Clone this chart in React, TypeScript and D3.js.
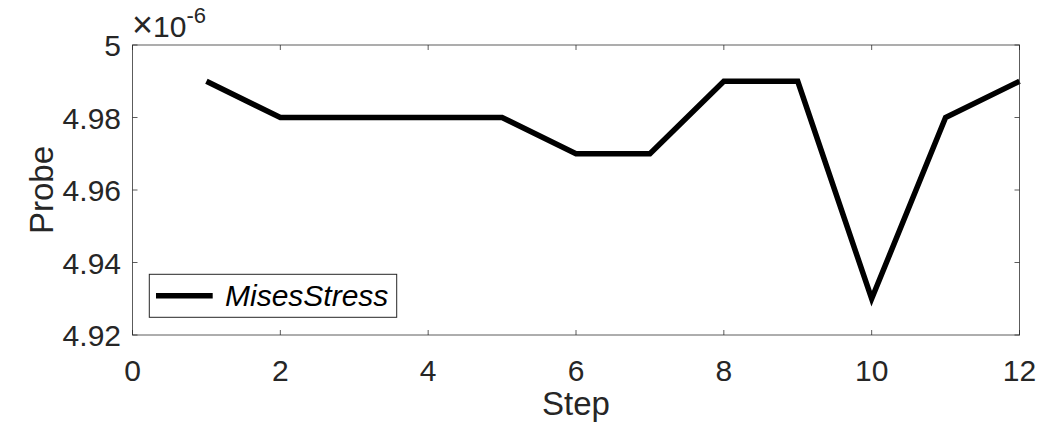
import React from "react";
import * as d3 from "d3";

const steps = [1, 2, 3, 4, 5, 6, 7, 8, 9, 10, 11, 12];
const probe = [4.99, 4.98, 4.98, 4.98, 4.98, 4.97, 4.97, 4.99, 4.99, 4.93, 4.98, 4.99];
const xTicks = [0, 2, 4, 6, 8, 10, 12];
const yTicks = [4.92, 4.94, 4.96, 4.98, 5];
const yTickLabels = ["4.92", "4.94", "4.96", "4.98", "5"];
const seriesName = "MisesStress";
const xLabel = "Step";
const yLabel = "Probe";

const W = 1061;
const H = 430;
const left = 132.5;
const right = 1019.5;
const top = 45;
const bottom = 335;
const FONT = "'Liberation Sans', Arial, Helvetica, sans-serif";
const AX = "#262626";

export default function App() {
  const x = d3.scaleLinear().domain([0, 12]).range([left, right]);
  const y = d3.scaleLinear().domain([4.92, 5]).range([bottom, top]);
  const line = d3
    .line<number>()
    .x((_, i) => x(steps[i]))
    .y((d) => y(d));
  const tl = 5;
  return (
    <svg
      width={W}
      height={H}
      style={{ position: "absolute", left: 0, top: 0, background: "#fff" }}
      fontFamily={FONT}
    >
      <rect x={0} y={0} width={W} height={H} fill="#fff" />
      <path
        d={line(probe) || ""}
        fill="none"
        stroke="#000"
        strokeWidth={5.5}
        strokeLinejoin="miter"
        strokeLinecap="butt"
      />
      <rect
        x={left}
        y={top}
        width={right - left}
        height={bottom - top}
        fill="none"
        stroke={AX}
        strokeWidth={1}
        strokeOpacity={0.75}
      />
      {xTicks.map((t) => (
        <g key={"x" + t}>
          <line x1={x(t)} x2={x(t)} y1={bottom} y2={bottom - tl} stroke={AX} strokeOpacity={0.75} strokeWidth={1} />
          <line x1={x(t)} x2={x(t)} y1={top} y2={top + tl} stroke={AX} strokeOpacity={0.75} strokeWidth={1} />
          <text x={x(t)} y={381} textAnchor="middle" fontSize={30} fill={AX}>
            {t}
          </text>
        </g>
      ))}
      {yTicks.map((t, i) => (
        <g key={"y" + t}>
          <line x1={left} x2={left + tl} y1={y(t)} y2={y(t)} stroke={AX} strokeOpacity={0.75} strokeWidth={1} />
          <line x1={right} x2={right - tl} y1={y(t)} y2={y(t)} stroke={AX} strokeOpacity={0.75} strokeWidth={1} />
          <text x={121} y={y(t) + 11} textAnchor="end" fontSize={30} fill={AX}>
            {yTickLabels[i]}
          </text>
        </g>
      ))}
      <text x={132} y={37} fontSize={30} fill={AX}>
        <tspan fontSize={36}>×</tspan>
        <tspan>10</tspan>
        <tspan dy={-14} fontSize={22}>
          -6
        </tspan>
      </text>
      <text x={(left + right) / 2} y={415} textAnchor="middle" fontSize={33} fill={AX}>
        {xLabel}
      </text>
      <text
        transform={`translate(53,${(top + bottom) / 2}) rotate(-90)`}
        textAnchor="middle"
        fontSize={33}
        fill={AX}
      >
        {yLabel}
      </text>
      <rect x={149.3} y={274.3} width={247.4} height={43} fill="#fff" stroke={AX} strokeWidth={1} />
      <line x1={156} x2={212.7} y1={295.8} y2={295.8} stroke="#000" strokeWidth={5.5} />
      <text x={225} y={306} fontSize={30} fontStyle="italic" fill="#000">
        {seriesName}
      </text>
    </svg>
  );
}
